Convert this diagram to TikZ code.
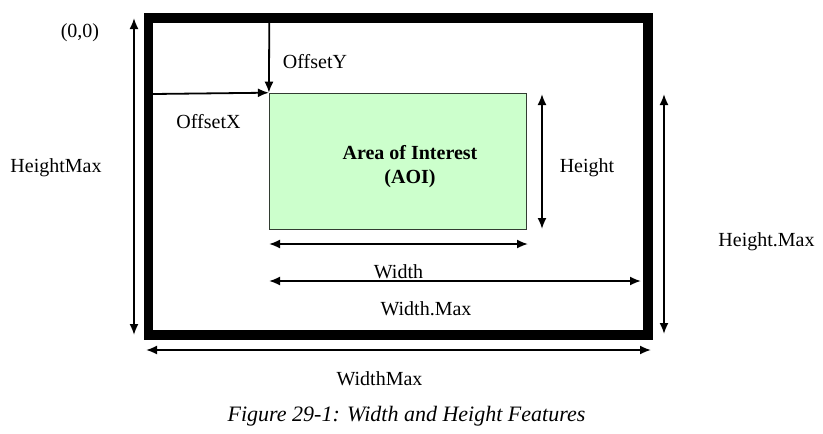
\documentclass[tikz,border=0pt]{standalone}
\usepackage{fontspec}
\setmainfont{Liberation Serif}
\usetikzlibrary{arrows.meta}
\definecolor{aoigreen}{RGB}{204,255,204}
\definecolor{aoiedge}{RGB}{50,60,50}
\begin{document}
\begin{tikzpicture}[x=1pt,y=-1pt,
  lbl/.style={inner sep=0pt,font=\fontsize{20}{24}\selectfont},
  dim/.style={line width=1.8pt,{Latex[length=11pt,width=9pt]}-{Latex[length=11pt,width=9pt]}},
  oneway/.style={line width=1.8pt,-{Latex[length=11pt,width=9pt]}}]
\useasboundingbox (0,0) rectangle (823,434);
% outer frame
\node[draw,line width=9.5pt,minimum width=499.5pt,minimum height=317pt,inner sep=0pt] (frame) at (398.25,176.5) {};
% AOI
\node[draw=aoiedge,line width=1.2pt,fill=aoigreen,minimum width=257pt,minimum height=136pt,inner sep=0pt] (aoi) at (398,161.3) {};
\node[lbl,font=\fontsize{20}{24}\selectfont\bfseries] (aoit1) at (410,153) {Area of Interest};
\node[lbl,font=\fontsize{20}{24}\selectfont\bfseries] (aoit2) at (410,179) {(AOI)};
% coordinates
\coordinate (hmT) at (134,18);
\coordinate (hmB) at (134,335);
\coordinate (oyS) at (269.3,22.7);
\coordinate (oxS) at (153.2,94);
\coordinate (hT) at (542,94);
\coordinate (hB) at (542,229);
\coordinate (wL) at (269,244);
\coordinate (wR) at (528,244);
\coordinate (wmL) at (269,281);
\coordinate (wmR) at (641,281);
\coordinate (HmT) at (664,94);
\coordinate (HmB) at (664,334);
\coordinate (WmL) at (146,350);
\coordinate (WmR) at (651,350);
% arrows
\draw[dim] (hmT) -- (hmB);
\draw[oneway] (oyS) -- (aoi.north west);
\draw[oneway] (oxS) -- (aoi.north west);
\draw[dim] (hT) -- (hB);
\draw[dim] (wL) -- (wR);
\draw[dim] (wmL) -- (wmR);
\draw[dim] (HmT) -- (HmB);
\draw[dim] (WmL) -- (WmR);
% labels
\node[lbl] (origin) at (80,33) {(0,0)};
\node[lbl] (offy) at (315,62) {OffsetY};
\node[lbl] (offx) at (208.5,122) {OffsetX};
\node[lbl] (hmax) at (56,168) {HeightMax};
\node[lbl] (hgt) at (587,168) {Height};
\node[lbl] (wid) at (398.5,272) {Width};
\node[lbl] (wdotmax) at (426,309) {Width.Max};
\node[lbl] (hdotmax) at (766.5,242) {Height.Max};
\node[lbl] (wmax) at (379.5,379) {WidthMax};
\node[lbl,font=\fontsize{22}{26}\selectfont\itshape] (cap) at (406.5,416) {Figure 29-1: Width and Height Features};
\end{tikzpicture}
\end{document}
